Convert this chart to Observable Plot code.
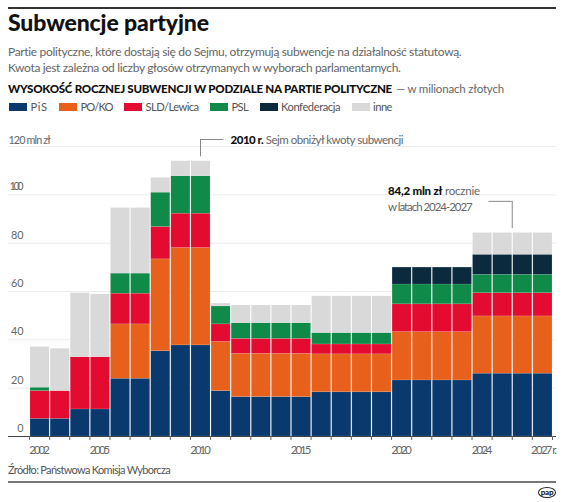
<!DOCTYPE html>
<html><head><meta charset="utf-8">
<script src="https://cdn.jsdelivr.net/npm/d3@7"></script>
<script src="https://cdn.jsdelivr.net/npm/@observablehq/plot@0.6"></script>
<style>
body{margin:0;background:#fff;font-family:Lato,"Open Sans",sans-serif;}
#wrap{position:relative;width:564px;height:502px;overflow:hidden;}
.abs{position:absolute;left:8px;margin:0;white-space:nowrap;}
#topline{top:7px;width:548px;height:2px;background:#333;}
#title{top:9px;font-size:23px;line-height:26px;font-weight:900;color:#111;}
#sub{top:44px;font-size:12px;line-height:16px;color:#666;}
#head{top:81px;font-size:11.6px;line-height:16px;color:#111;font-weight:900;}
#head .g{font-weight:400;color:#666;font-size:11.5px;margin-left:4px;}
#legend{top:100px;font-size:11.2px;line-height:14px;color:#555;display:flex;}
#legend .it{display:flex;align-items:center;margin-right:10.5px;}
#legend .sw{width:18px;height:8px;margin-right:3.5px;margin-left:1px;}
#chart{position:absolute;left:0;top:120px;}
#source{top:463px;font-size:11px;line-height:14px;color:#555;}
#botline{top:481px;width:548px;height:2px;background:#777;}
#pap{position:absolute;left:538px;top:487px;width:16px;height:9px;border:1.5px solid #222;border-radius:50%;font-size:8px;line-height:9px;font-weight:900;text-align:center;color:#222;letter-spacing:-0.3px;}
span{white-space:nowrap;}
</style></head>
<body><div id="wrap">
<div id="topline" class="abs"></div>
<div id="title" class="abs"><span data-w="201">Subwencje partyjne</span></div>
<div id="sub" class="abs"><span data-w="453.5">Partie polityczne, które dostają się do Sejmu, otrzymują subwencje na działalność statutową.</span><br><span data-w="392.5">Kwota jest zależna od liczby głosów otrzymanych w wyborach parlamentarnych.</span></div>
<div id="head" class="abs"><span data-w="384">WYSOKOŚĆ ROCZNEJ SUBWENCJI W PODZIALE NA PARTIE POLITYCZNE</span><span class="g" data-w="108">— w milionach złotych</span></div>
<div id="legend" class="abs"></div>
<div id="chart"></div>
<div id="source" class="abs"><span data-w="162">Źródło: Państwowa Komisja Wyborcza</span></div>
<div id="botline" class="abs"></div>
<div id="pap">pap</div>
</div>
<script>
const years = [2002,2003,2004,2005,2006,2007,2008,2009,2010,2011,2012,2013,2014,2015,2016,2017,2018,2019,2020,2021,2022,2023,2024,2025,2026,2027];
const parties = ["PiS","PO/KO","SLD/Lewica","PSL","Konfederacja","inne"];
const colors = ["#0a3a6d","#e8611c","#e30b2f","#0f8a48","#0c2a3d","#d9d9d9"];
const pis  = [7.3,7.3,11.2,11.2,23.9,23.9,35.3,37.7,37.7,18.8,16.3,16.3,16.3,16.3,18.3,18.3,18.3,18.3,23.2,23.2,23.2,23.2,26.0,26.0,26.0,26.0];
const po   = [0,0,0,0,22.5,22.5,38.0,40.3,40.3,20.3,17.9,17.9,17.9,17.9,15.7,15.7,15.7,15.7,20.0,20.0,20.0,20.0,23.7,23.7,23.7,23.7];
const sld  = [11.5,11.5,21.6,21.6,12.7,12.7,13.4,14.2,14.2,7.3,6.2,6.2,6.2,6.2,4.1,4.1,4.1,4.1,11.5,11.5,11.5,11.5,9.6,9.6,9.6,9.6];
const psl  = [1.4,0,0,0,8.3,8.3,14.2,15.5,15.5,7.4,6.5,6.5,6.5,6.5,4.7,4.7,4.7,4.7,8.2,8.2,8.2,8.2,7.6,7.6,7.6,7.6];
const konf = [0,0,0,0,0,0,0,0,0,0,0,0,0,0,0,0,0,0,7.0,7.0,7.0,7.0,8.3,8.3,8.3,8.3];
const inne = [16.8,17.5,26.5,26.0,27.1,27.1,6.1,6.2,6.2,1.2,7.3,7.3,7.3,7.3,15.2,15.2,15.2,15.2,0,0,0,0,9.0,9.0,9.0,9.0];
const yTicks = [0,20,40,60,80,100];
const yTopLabel = "120 mln zł";
const xLabels = [{year:2002,label:"2002"},{year:2005,label:"2005"},{year:2010,label:"2010"},{year:2015,label:"2015"},{year:2020,label:"2020"},{year:2024,label:"2024"},{year:2027,label:"2027 r."}];
const tickYears = [2002,2003,2004,2005,2006,2007,2008,2009,2010,2011,2012,2013,2014,2015,2016,2017,2018,2019,2020,2021,2022,2023,2024,2025,2026,2027,2028];
const note1 = {year:2010, bold:"2010 r.", text:" Sejm obniżył kwoty subwencji"};
const note2 = {from:2024, to:2027, bold:"84,2 mln zł", text:" rocznie", text2:"w latach 2024-2027"};

const series = [pis, po, sld, psl, konf, inne];
const data = years.flatMap((y,i) => parties.map((p,j) => ({year:y, party:p, value:series[j][i]}))).filter(d => d.value > 0);
const totals = years.map((y,i) => ({year:y, total: series.reduce((s,a)=>s+a[i],0)}));
const tot = y => totals.find(d=>d.year===y).total;

// legend
const legendW = [17, 32, 53, 16.5, 59, 19];
const lg = document.getElementById("legend");
parties.forEach((p,i)=>{
  const it = document.createElement("div"); it.className="it";
  it.innerHTML = `<div class="sw" style="background:${colors[i]}"></div><span data-w="${legendW[i]}">${p}</span>`;
  lg.appendChild(it);
});

// fit HTML text widths
function fit(el, target){
  el.style.letterSpacing = "0px";
  const w = el.getBoundingClientRect().width;
  const n = [...el.textContent].length;
  el.style.letterSpacing = ((target - w) / n) + "px";
}
document.querySelectorAll("span[data-w]").forEach(el => fit(el, +el.dataset.w));

const n1top = 122.9, n2top = 97.3;
const n2x = (note2.from + note2.to + 1)/2;
const smallText = {fill: "#666", fontSize: 10.8};

const plot = Plot.plot({
  width: 564, height: 342,
  marginLeft: 8, marginRight: 8, marginTop: 26, marginBottom: 26,
  style: {fontFamily: "Lato, 'Open Sans', sans-serif", fontSize: "10.8px", color: "#666", overflow: "visible"},
  x: {domain: [2000.955, 2028.2], axis: null},
  y: {domain: [0, 120], axis: null},
  color: {domain: parties, range: colors},
  marks: [
    Plot.ruleY([20,40,60,80,100,120], {stroke: "#ececec", strokeWidth: 1}),
    Plot.rectY(data, {x: "year", interval: 1, y: "value", fill: "party", order: parties, stroke: "#fff", strokeOpacity: 0.18, strokeWidth: 0.6}),
    Plot.ruleY([0], {stroke: "#444", strokeWidth: 1.2}),
    Plot.ruleX(tickYears, {x: d=>d, y1: 0, y2: 0, insetBottom: -4, stroke: "#666", strokeWidth: 1}),
    Plot.text(yTicks, {y: d=>d, frameAnchor: "left", text: d=>String(d), textAnchor: "end", dx: 15, dy: -8, ...smallText}),
    Plot.text([120], {y: d=>d, frameAnchor: "left", text: d=>yTopLabel, textAnchor: "start", dx: 0, dy: -6, ...smallText}),
    Plot.text(xLabels.filter(d=>d.label.length===4), {x: d=>d.year+0.5, y: 0, text: "label", dy: 14, ...smallText, fontSize: 11.3}),
    Plot.text(xLabels.filter(d=>d.label.length>4), {x: d=>d.year+0.5, y: 0, text: "label", dy: 14, dx: 1.5, ...smallText, fontSize: 11.3}),
    // annotation 1
    Plot.ruleX([note1.year+0.5], {x: d=>d, y1: tot(note1.year)+1.8, y2: n1top, stroke: "#888"}),
    Plot.ruleY([n1top], {y: d=>d, x1: note1.year+0.5, x2: note1.year+1.66, stroke: "#888"}),
    // annotation 2
    Plot.ruleX([n2x], {x: d=>d, y1: tot(note2.to)+1.8, y2: n2top, stroke: "#888"}),
    Plot.ruleY([n2top], {y: d=>d, x1: n2x-1.16, x2: n2x, stroke: "#888"})
  ]
});
document.getElementById("chart").appendChild(plot);

const xs = plot.scale("x"), ys = plot.scale("y");
const svg = d3.select(plot);
// fit tick label widths
svg.selectAll("text").each(function(){
  const s = this.textContent;
  let L = null;
  if (/^\d{4}$/.test(s)) L = 20.5;
  else if (s === "2027 r.") L = 26;
  else if (s === yTopLabel) L = 42;
  else if (/^\d{3}$/.test(s)) L = 14;
  else if (/^\d{2}$/.test(s)) L = 12.5;
  if (L) d3.select(this).attr("textLength", L).attr("lengthAdjust", "spacing");
});
function note(x, y, parts, L){
  const t = svg.append("text").attr("x", xs.apply(x)).attr("y", ys.apply(y)).attr("dy","0.35em")
    .attr("text-anchor","start").attr("font-size", 11.5).attr("fill", "#555")
    .attr("textLength", L).attr("lengthAdjust", "spacing");
  parts.forEach(p => t.append("tspan").text(p.t).attr("font-weight", p.b ? 900 : 400).attr("fill", p.b ? "#111" : "#666"));
}
note(note1.year+2.02, n1top-0.6, [{t:note1.bold,b:true},{t:note1.text}], 173);
note(2019.85, 101.2, [{t:note2.bold,b:true},{t:note2.text}], 92);
note(2019.85, 94.9, [{t:note2.text2}], 84.7);
</script>
</body></html>
